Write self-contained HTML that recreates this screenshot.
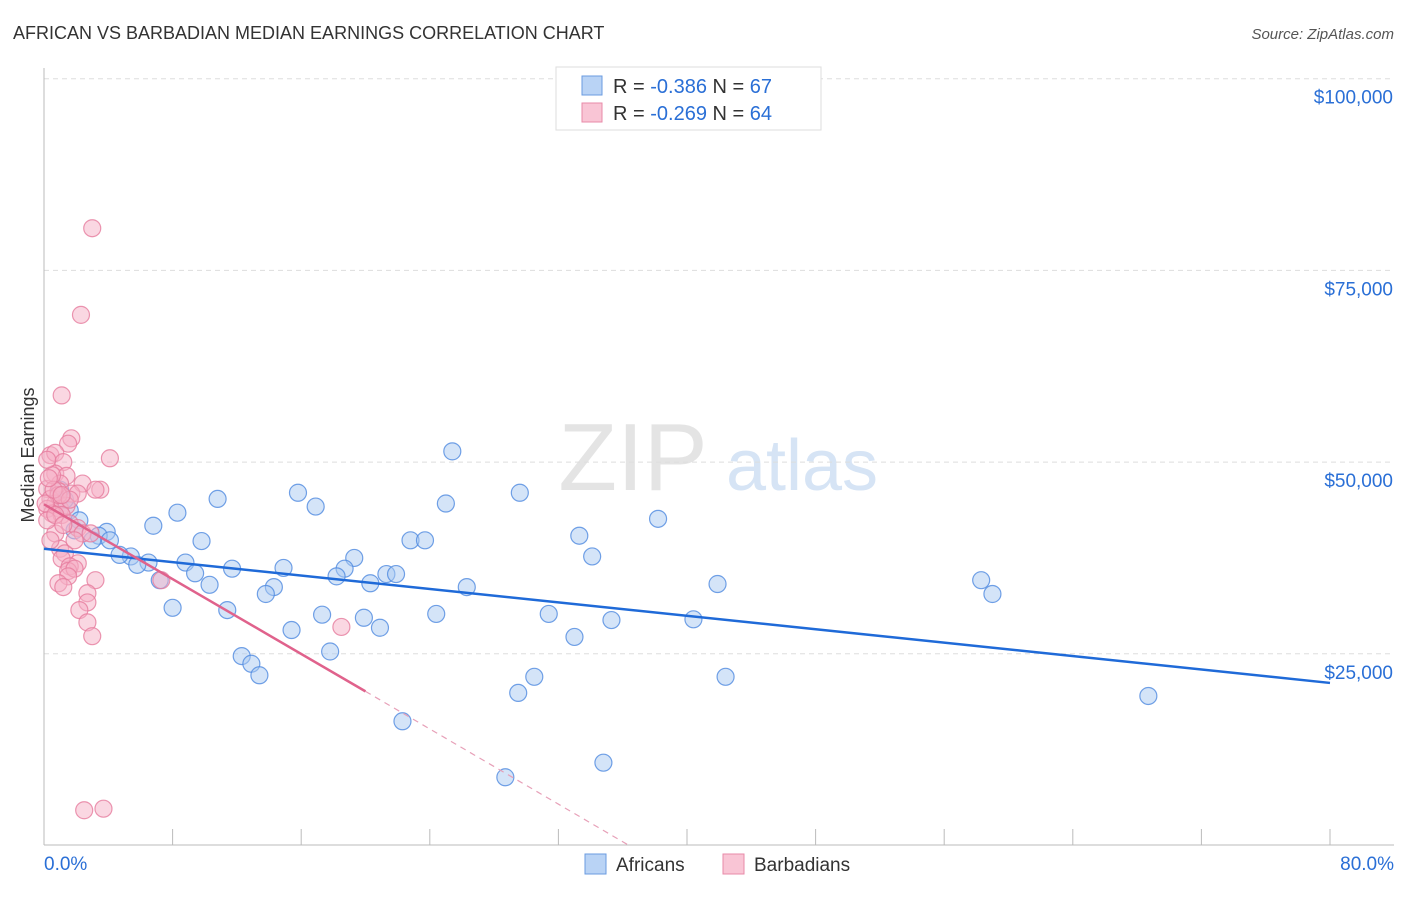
<!DOCTYPE html>
<html><head><meta charset="utf-8"><style>
body{margin:0;background:#fff;font-family:"Liberation Sans",sans-serif}
svg text{font-family:"Liberation Sans",sans-serif}
</style></head><body>
<svg id="chart" width="1406" height="892" xmlns="http://www.w3.org/2000/svg">
<text x="13" y="39" font-size="18" fill="#333">AFRICAN VS BARBADIAN MEDIAN EARNINGS CORRELATION CHART</text>
<text x="1394" y="39" font-size="15" fill="#555" font-style="italic" text-anchor="end">Source: ZipAtlas.com</text>
<g>
<text x="633" y="490" font-size="96" fill="#e4e4e4" font-family="Liberation Serif" text-anchor="middle">ZIP</text>
<text x="802" y="490" font-size="72" fill="#d6e4f5" text-anchor="middle">atlas</text>
</g>
<g id="grid"></g>
<g id="axes"></g>
<g id="marks"></g>
<text transform="translate(34,455) rotate(-90)" font-size="18" fill="#333" text-anchor="middle">Median Earnings</text>
<g>
<rect x="556" y="67" width="265" height="63" fill="#fff" stroke="#ddd"/>
<rect x="582" y="76" width="20" height="19" fill="#b9d3f5" stroke="#6a9be0"/>
<text x="613" y="93" font-size="20" fill="#333">R = <tspan fill="#2a6fd6">-0.386</tspan>   N = <tspan fill="#2a6fd6">67</tspan></text>
<rect x="582" y="103" width="20" height="19" fill="#f9c5d5" stroke="#e88aa8"/>
<text x="613" y="120" font-size="20" fill="#333">R = <tspan fill="#2a6fd6">-0.269</tspan>   N = <tspan fill="#2a6fd6">64</tspan></text>
</g>
<g>
<rect x="585" y="854" width="21" height="20" fill="#b9d3f5" stroke="#6a9be0"/>
<text x="616" y="871" font-size="19" fill="#333">Africans</text>
<rect x="723" y="854" width="21" height="20" fill="#f9c5d5" stroke="#e88aa8"/>
<text x="754" y="871" font-size="19" fill="#333">Barbadians</text>
</g>
</svg>
<script>
const yTicks=[25000,50000,75000,100000];
const yTickLabels=["$25,000","$50,000","$75,000","$100,000"];
const xTickLabels=["0.0%","80.0%"];
const africansX=[25.4,15.8,29.6,10.8,25.0,16.9,8.3,38.2,6.8,33.3,22.8,23.7,3.9,3.4,9.8,4.1,34.1,19.3,5.4,6.5,8.8,11.7,14.9,18.7,9.4,18.2,21.3,21.9,5.8,20.3,7.2,10.3,14.3,26.3,41.9,58.3,59.0,13.8,8.0,11.4,17.3,19.9,24.4,31.4,35.3,40.4,15.4,20.9,33.0,17.8,12.3,12.9,13.4,30.5,42.4,29.5,68.7,22.3,28.7,34.8,1.6,2.2,1.3,3.0,4.7,1.0,1.9];
const africansY=[51.4,46.0,46.0,45.2,44.6,44.2,43.4,42.6,41.7,40.4,39.8,39.8,40.9,40.4,39.7,39.8,37.7,37.5,37.7,36.9,36.9,36.1,36.2,36.1,35.5,35.1,35.4,35.4,36.6,34.2,34.6,34.0,33.7,33.7,34.1,34.6,32.8,32.8,31.0,30.7,30.1,29.7,30.2,30.2,29.4,29.5,28.1,28.4,27.2,25.3,24.7,23.7,22.2,22.0,22.0,19.9,19.5,16.2,8.9,10.8,43.7,42.4,45.1,39.8,37.9,46.4,41.1];
const barbadiansX=[3.0,2.3,1.1,1.7,1.5,0.4,0.7,1.2,4.1,0.7,1.4,2.4,1.0,0.2,0.9,1.7,2.1,0.4,0.7,1.0,0.2,1.4,0.5,1.1,1.6,2.1,0.7,2.4,2.9,1.0,1.3,1.1,2.1,1.6,1.5,1.9,1.5,0.9,3.2,1.2,2.7,2.7,2.2,2.7,3.0,7.3,18.5,2.5,3.7,0.2,0.5,0.9,0.1,0.4,1.9,3.5,0.7,1.2,3.2,1.6,0.2,0.6,1.1,0.3];
const barbadiansY=[80.5,69.2,58.7,53.1,52.4,50.9,51.2,50.0,50.5,48.5,48.2,47.2,47.2,46.5,46.2,45.9,45.9,45.2,44.6,43.9,43.9,44.3,43.3,43.1,42.0,41.4,40.7,40.7,40.7,38.7,38.1,37.4,36.8,36.4,35.8,36.1,35.1,34.2,34.6,33.7,32.9,31.7,30.7,29.1,27.3,34.6,28.5,4.6,4.8,42.4,48.3,45.7,44.6,39.8,39.8,46.4,43.1,41.8,46.4,45.1,50.3,46.4,45.7,47.9];
const africansTrend=[[0,38.7],[80,21.2]];
const barbadiansTrendSolid=[[0,44.5],[20.0,20.1]];
const barbadiansTrendDash=[[20.0,20.1],[36.4,0]];

const NS="http://www.w3.org/2000/svg";
const xs=p=>44+p/80*1286;
const ys=v=>845.5-v/25000*191.7;
const ysk=k=>ys(k*1000);
function mk(tag,attrs,parent){const e=document.createElementNS(NS,tag);for(const k in attrs)e.setAttribute(k,attrs[k]);parent.appendChild(e);return e;}
const grid=document.getElementById('grid'),axes=document.getElementById('axes'),marks=document.getElementById('marks');
yTicks.forEach((t,i)=>{
 const l=mk('line',{x1:44,x2:1394,y1:ys(t),y2:ys(t),stroke:'#ddd','stroke-dasharray':'5,4'},grid);
 
 
 const tx=mk('text',{x:1393,y:ys(t)+25,'font-size':19,fill:'#2a6fd6','text-anchor':'end'},axes);
 tx.textContent=yTickLabels[i];
 
 
});
const ya=mk('line',{x1:44,x2:44,y1:68,y2:845,stroke:'#bbb'},axes);


const xa=mk('line',{x1:44,x2:1394,y1:845,y2:845,stroke:'#bbb'},axes);


for(let i=1;i<=10;i++){
 const t=mk('line',{x1:xs(i*8),x2:xs(i*8),y1:829,y2:845,stroke:'#bbb'},axes);
 
 
}
[[0,'start',44],[80,'end',1394]].forEach((d,i)=>{
 const t=mk('text',{x:d[2],y:870,'font-size':19,fill:'#2a6fd6','text-anchor':d[1]},axes);
 t.textContent=xTickLabels[i];
 
 
});
function dots(X,Y,fill,stroke,name){
 X.forEach((p,i)=>{
  const c=mk('circle',{cx:xs(p),cy:ysk(Y[i]),r:8.5,fill:fill,'fill-opacity':0.5,stroke:stroke,'stroke-opacity':0.8,'stroke-width':1.2},marks);
  
  
 });
}
dots(africansX,africansY,'#a9c9f2','#4f8ae0','africans-point');
dots(barbadiansX,barbadiansY,'#f6b0c6','#e67c9e','barbadians-point');
function line(pts,color,dash,name,w){
 const l=mk('line',{x1:xs(pts[0][0]),y1:ysk(pts[0][1]),x2:xs(pts[1][0]),y2:ysk(pts[1][1]),stroke:color,'stroke-width':w},marks);
 if(dash)l.setAttribute('stroke-dasharray',dash);
 
 
}
line(africansTrend,'#1f6ad8',null,'africans-trend-line',2.5);
line(barbadiansTrendSolid,'#e0628c',null,'barbadians-trend-line',2.5);
line(barbadiansTrendDash,'#e7a0b8','6,5','barbadians-trend-extension',1.2);
</script>
</body></html>
